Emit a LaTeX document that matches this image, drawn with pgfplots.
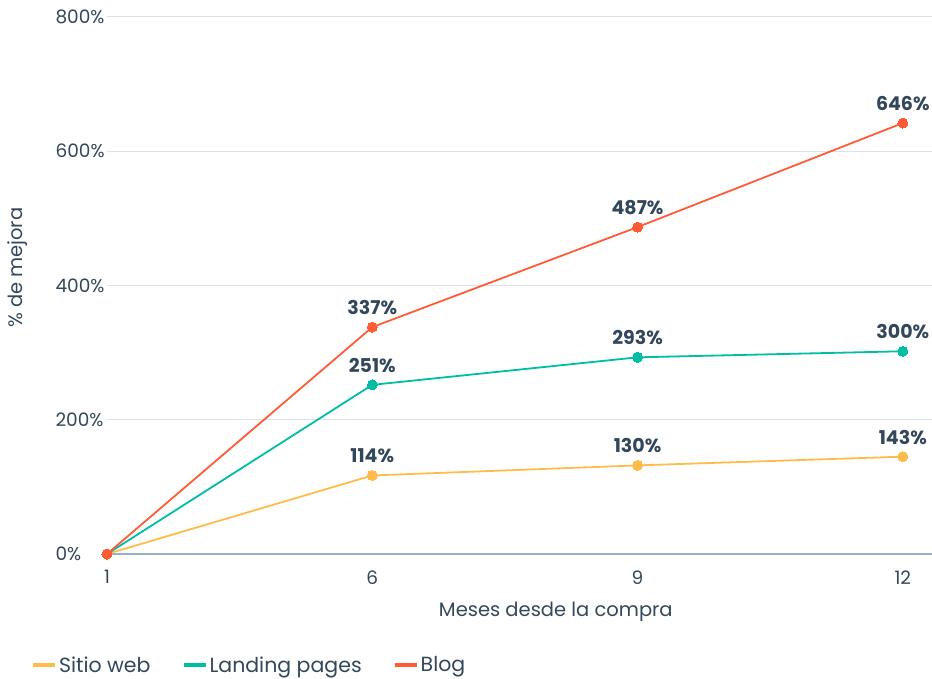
\documentclass[border=0pt]{standalone}
\usepackage{pgfplots}
\pgfplotsset{compat=1.18}
\usepackage{fontspec}
\setmainfont{Poppins}
\definecolor{cYel}{HTML}{FFBC4B}
\definecolor{cTeal}{HTML}{00BDA5}
\definecolor{cRed}{HTML}{FF5C35}
\definecolor{cText}{HTML}{33475B}
\definecolor{cGrid}{HTML}{DBE1EA}
\definecolor{cAxis}{HTML}{99AFC4}
\begin{document}
\begin{tikzpicture}[x=1pt,y=1pt]
\useasboundingbox (0,0) rectangle (932,678);
\begin{axis}[
  at={(107pt,124pt)}, anchor=south west,
  scale only axis, width=825pt, height=537pt,
  xmin=0, xmax=3.11, ymin=0, ymax=800,
  xtick={0,1,2,3}, xticklabels={1,6,9,12},
  ytick={0,200,400,600,800},
  yticklabel={\pgfmathprintnumber{\tick}\%},
  /pgf/number format/assume math mode=true,
  major tick length=0pt,
  ymajorgrids, grid style={cGrid, line width=1pt},
  separate axis lines,
  x axis line style={cAxis, line width=1.3pt, -},
  y axis line style={draw=none},
  axis x line*=bottom, axis y line*=left,
  clip=false,
  tick label style={font=\fontsize{18.5}{21}\selectfont, text=cText},
  xticklabel style={yshift=-13pt},
  yticklabel style={anchor=west, xshift=-55pt},
  xlabel={Meses desde la compra},
  ylabel={\% de mejora},
  label style={font=\fontsize{19.5}{22}\selectfont, text=cText},
  xlabel style={at={(axis description cs:0.544,-0.108)}, anchor=center},
  ylabel style={at={(axis description cs:-0.108,0.533)}, anchor=center},
  legend columns=3,
  legend style={draw=none, fill=none, at={(axis description cs:-0.096,-0.207)}, anchor=west,
    font=\fontsize{20.5}{22}\selectfont, text=cText,
    /tikz/every even column/.append style={column sep=29pt}},
  legend image code/.code={\draw[line width=4pt] (0pt,0pt) -- (22pt,0pt);},
  point meta=explicit symbolic,
  nodes near coords={\pgfplotspointmeta},
  nodes near coords style={font=\bfseries\fontsize{19}{21}\selectfont, text=cText, anchor=south, yshift=9pt},
]
\addplot[color=cYel, line width=1.8pt, mark=*, mark size=5pt, mark options={line width=0pt, fill=cYel}] coordinates {(0,0)[{}] (1,117)[114\%] (2,132)[130\%] (3,145)[143\%]};
\addlegendentry{Sitio web}
\addplot[color=cTeal, line width=1.8pt, mark=*, mark size=5pt, mark options={line width=0pt, fill=cTeal}] coordinates {(0,0)[{}] (1,252)[251\%] (2,293)[293\%] (3,302)[300\%]};
\addlegendentry{Landing pages\hspace{19pt}}
\addplot[color=cRed, line width=1.8pt, mark=*, mark size=5pt, mark options={line width=0pt, fill=cRed}] coordinates {(0,0)[{}] (1,338)[337\%] (2,487)[487\%] (3,642)[646\%]};
\addlegendentry{Blog}
\end{axis}
\end{tikzpicture}
\end{document}
